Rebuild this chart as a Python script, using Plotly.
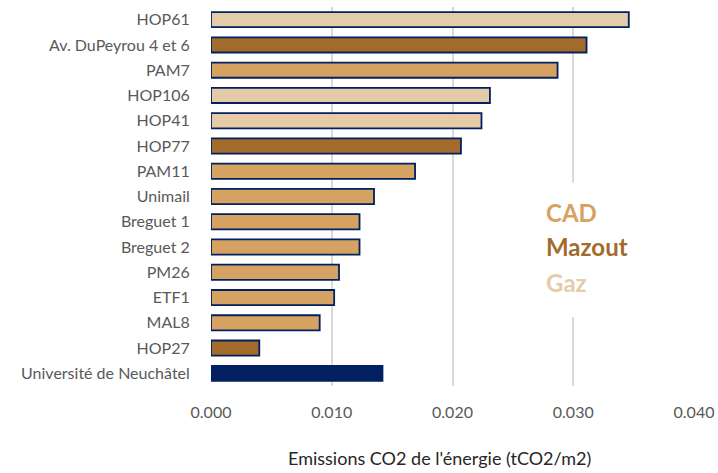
import plotly.graph_objects as go

batiments = ["HOP61", "Av. DuPeyrou 4 et 6", "PAM7", "HOP106", "HOP41", "HOP77", "PAM11",
             "Unimail", "Breguet 1", "Breguet 2", "PM26", "ETF1", "MAL8", "HOP27",
             "Université de Neuchâtel"]
emissions = [0.0346, 0.0311, 0.0287, 0.0231, 0.0224, 0.0207, 0.0169,
             0.0135, 0.0123, 0.0123, 0.0106, 0.0102, 0.0090, 0.0040, 0.0142]
energie = ["Gaz", "Mazout", "CAD", "Gaz", "Gaz", "Mazout", "CAD",
           "CAD", "CAD", "CAD", "CAD", "CAD", "CAD", "Mazout", "Total"]

couleurs = {"CAD": "#D6A262", "Mazout": "#A26B2C", "Gaz": "#E5CCA8", "Total": "#002060"}
bleu = "#002060"

fig = go.Figure(go.Bar(
    x=emissions,
    y=batiments,
    orientation="h",
    marker=dict(color=[couleurs[e] for e in energie],
                line=dict(color=bleu, width=1.8)),
    width=0.6,
    hoverinfo="x+y",
))

# zone blanche derriere la legende (coupe la grille comme dans Excel)
fig.add_shape(type="rect", xref="x", yref="paper", x0=0.0262, x1=0.0360, y0=0.182, y1=0.536,
              fillcolor="white", line=dict(width=0), layer="above")

for nom, ypos in [("CAD", 0.459), ("Mazout", 0.369), ("Gaz", 0.274)]:
    fig.add_annotation(
        text="<b>%s</b>" % nom, xref="x", yref="paper", x=0.0276, y=ypos,
        xanchor="left", yanchor="middle", showarrow=False,
        font=dict(family="Lato", size=24, color=couleurs[nom]),
    )

fig.add_annotation(
    text="Emissions CO2 de l'énergie (tCO2/m2)", xref="paper", yref="paper",
    x=0.474, y=-0.19, xanchor="center", yanchor="middle", showarrow=False,
    font=dict(family="Lato", size=18, color="#262626"),
)

fig.update_layout(
    width=718, height=473,
    margin=dict(l=211, r=24, t=7, b=87),
    paper_bgcolor="white", plot_bgcolor="white",
    font=dict(family="Lato", size=16, color="#595959"),
    showlegend=False,
    xaxis=dict(
        range=[0, 0.04], dtick=0.01, tickformat=".3f", automargin=False,
        showgrid=True, gridcolor="#D9D9D9", gridwidth=1.5,
        zeroline=False, showline=False,
        ticks="outside", ticklen=12, tickcolor="rgba(0,0,0,0)",
    ),
    yaxis=dict(
        autorange="reversed", showgrid=False, zeroline=False, automargin=False,
        ticks="outside", ticklen=17, tickcolor="rgba(0,0,0,0)",
    ),
)

fig.write_html("out.html", config={"displayModeBar": False},
               post_script="document.body.style.margin='0';")
